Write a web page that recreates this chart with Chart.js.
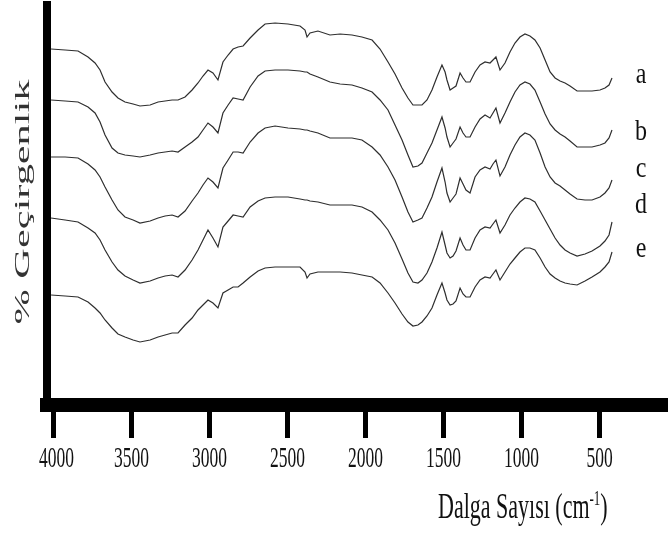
<!DOCTYPE html>
<html>
<head>
<meta charset="utf-8">
<script src="https://cdn.jsdelivr.net/npm/chart.js@4.4.0/dist/chart.umd.min.js"></script>
<style>
  html, body { margin: 0; padding: 0; background: #fff; }
  #wrap { width: 668px; height: 533px; }
</style>
</head>
<body>
<div id="wrap"><canvas id="chart_canvas" width="668" height="533"></canvas></div>
<script>
// Wavenumbers (cm-1) where the spectra were read
const waveNumbers = [
  4016, 3926, 3843, 3779, 3734, 3702, 3670, 3625, 3587, 3542,
  3490, 3446, 3381, 3330, 3285, 3240, 3202, 3157, 3112, 3074,
  3042, 3010, 2978, 2946, 2914, 2881, 2849, 2817, 2785, 2740,
  2689, 2644, 2580, 2497, 2420, 2388, 2375, 2356, 2305, 2228,
  2163, 2087, 2023, 1958, 1907, 1856, 1811, 1766, 1728, 1696,
  1664, 1638, 1606, 1574, 1542, 1510, 1490, 1478, 1458, 1439,
  1420, 1394, 1375, 1356, 1330, 1298, 1266, 1234, 1202, 1183,
  1164, 1138, 1106, 1074, 1042, 1010, 978, 946, 914, 881,
  849, 817, 785, 753, 721, 689, 644, 593, 548, 497,
  465, 439, 420
]

// % transmittance (offset, arbitrary units) for each sample
const specA = [
  356, 355, 354, 348, 342, 335, 323, 313, 307, 303,
  301, 299, 300, 303, 304, 305, 305, 308, 315, 322,
  329, 335, 332, 325, 343, 350, 356, 358, 359, 367,
  375, 381, 382, 381, 379, 375, 368, 372, 374, 370,
  371, 370, 368, 365, 356, 343, 331, 317, 307, 300,
  300, 300, 305, 315, 328, 340, 333, 325, 315, 317,
  319, 332, 327, 323, 323, 333, 340, 343, 342, 345,
  348, 335, 342, 353, 362, 368, 371, 369, 365, 357,
  345, 333, 327, 324, 322, 319, 314, 314, 314, 315,
  317, 320, 327
]
const specB = [
  305, 304, 303, 298, 292, 283, 270, 257, 252, 250,
  249, 248, 250, 252, 253, 254, 253, 258, 263, 268,
  275, 282, 278, 272, 292, 300, 307, 306, 305, 318,
  329, 334, 335, 335, 334, 333, 333, 331, 328, 323,
  321, 320, 317, 313, 305, 295, 280, 265, 250, 238,
  239, 242, 252, 262, 275, 288, 277, 268, 258, 262,
  266, 278, 272, 268, 268, 278, 286, 290, 287, 292,
  297, 282, 292, 303, 313, 320, 323, 321, 315, 303,
  291, 281, 275, 271, 268, 264, 258, 258, 258, 260,
  262, 267, 275
]
const specC = [
  248, 248, 247, 241, 235, 228, 218, 205, 195, 188,
  185, 182, 184, 187, 189, 190, 188, 194, 204, 212,
  220, 227, 223, 217, 237, 245, 253, 253, 252, 263,
  272, 277, 279, 277, 276, 275, 275, 274, 272, 267,
  267, 267, 265, 258, 250, 238, 225, 208, 193, 183,
  185, 187, 197, 208, 223, 237, 223, 212, 203, 207,
  211, 227, 221, 215, 212, 228, 235, 238, 236, 241,
  245, 229, 238, 250, 260, 268, 272, 270, 265, 252,
  238, 228, 222, 219, 215, 211, 206, 205, 205, 208,
  212, 217, 225
]
const specD = [
  187, 185, 183, 177, 172, 165, 155, 143, 135, 129,
  125, 122, 124, 127, 129, 130, 128, 135, 145, 155,
  165, 175, 167, 158, 178, 184, 190, 189, 188, 198,
  204, 207, 208, 208, 206, 205, 205, 204, 203, 200,
  200, 200, 198, 193, 185, 175, 162, 146, 132, 123,
  122, 125, 132, 143, 157, 173, 160, 152, 147, 149,
  154, 167, 160, 155, 155, 167, 175, 178, 177, 181,
  185, 172, 180, 190, 197, 203, 207, 206, 203, 194,
  185, 176, 167, 160, 155, 152, 149, 151, 154, 159,
  164, 170, 183
]
const specE = [
  110, 109, 108, 103, 97, 92, 85, 77, 71, 68,
  65, 63, 65, 68, 70, 72, 72, 80, 87, 95,
  100, 105, 102, 97, 112, 115, 118, 118, 122, 128,
  134, 137, 138, 138, 138, 133, 127, 131, 133, 133,
  133, 132, 130, 128, 122, 112, 102, 91, 83, 79,
  80, 83, 89, 97, 110, 122, 112, 105, 100, 101,
  104, 117, 111, 108, 108, 118, 125, 128, 127, 131,
  135, 125, 133, 141, 147, 153, 157, 157, 155, 147,
  138, 131, 127, 124, 122, 121, 120, 124, 128, 133,
  138, 143, 153
]

const sampleNames = ['a', 'b', 'c', 'd', 'e']
const sampleLabelY = [322, 265, 228, 192, 148]   // baseline of the letters, in y units
const sampleLabelX = 234                         // in cm-1
const xTicks = [4000, 3500, 3000, 2500, 2000, 1500, 1000, 500]

const series = [specA, specB, specC, specD, specE]

function toPoints(ys) {
  return ys.map((y, i) => ({ x: waveNumbers[i], y: y }))
}

// texte étiré verticalement comme dans la figure d'origine
function stretchedText(ctx, text, x, y, sx, sy, align) {
  ctx.save()
  ctx.translate(x, y)
  ctx.scale(sx, sy)
  ctx.textAlign = align
  ctx.textBaseline = 'alphabetic'
  ctx.fillText(text, 0, 0)
  ctx.restore()
}

const textPlugin = {
  id: 'ftirText',
  afterDraw(chart) {
    const ctx = chart.ctx
    const xs = chart.scales.x
    const ys = chart.scales.y

    // tick labels
    ctx.fillStyle = '#111'
    ctx.font = '17.5px "Liberation Serif", "Times New Roman", serif'
    xTicks.forEach(v => {
      const px = xs.getPixelForValue(v)
      stretchedText(ctx, String(v), v === 4000 ? px + 3 : px, 467, 1, 1.7, 'center')
    })

    // x axis title with superscript
    const tx = 438, ty = 518
    ctx.font = '22px "Liberation Serif", "Times New Roman", serif'
    const main = 'Dalga Sayısı (cm'
    stretchedText(ctx, main, tx, ty, 1, 1.6, 'left')
    let w = ctx.measureText(main).width
    ctx.font = '13px "Liberation Serif", "Times New Roman", serif'
    stretchedText(ctx, '-1', tx + w, ty - 13, 1, 1.6, 'left')
    const w2 = ctx.measureText('-1').width
    ctx.font = '22px "Liberation Serif", "Times New Roman", serif'
    stretchedText(ctx, ')', tx + w + w2, ty, 1, 1.6, 'left')

    // y axis title, rotated and stretched along its length
    ctx.save()
    ctx.fillStyle = '#333'
    ctx.font = '20px "Liberation Serif", "Times New Roman", serif'
    const yTitle = '% Geçirgenlik'
    const yw = ctx.measureText(yTitle).width
    ctx.translate(29, 202)
    ctx.rotate(-Math.PI / 2)
    ctx.scale(245 / yw, 1)
    ctx.textAlign = 'center'
    ctx.textBaseline = 'alphabetic'
    ctx.fillText(yTitle, 0, 0)
    ctx.restore()

    // sample letters
    ctx.fillStyle = '#111'
    ctx.font = '24px "Liberation Serif", "Times New Roman", serif'
    sampleNames.forEach((n, i) => {
      stretchedText(ctx, n, xs.getPixelForValue(sampleLabelX), ys.getPixelForValue(sampleLabelY[i]), 1, 1.25, 'center')
    })
  }
}

const data = {
  datasets: series.map((s, i) => ({
    label: sampleNames[i],
    data: toPoints(s),
    borderColor: '#2e2e2e',
    borderWidth: 1.2,
    pointRadius: 0,
    tension: 0,
    fill: false
  }))
}

const config = {
  type: 'line',
  data,
  options: {
    responsive: false,
    animation: false,
    layout: { padding: { top: 5, right: 0, left: 0, bottom: 0 } },
    scales: {
      x: {
        type: 'linear',
        reverse: true,
        min: 61,
        max: 4042,
        afterBuildTicks: (scale) => {
          scale.ticks = xTicks.map(v => ({ value: v }))
        },
        afterFit: (scale) => { scale.height = 128 },
        ticks: { color: 'rgba(0,0,0,0)', font: { size: 12 } },
        grid: {
          drawOnChartArea: false,
          tickLength: 33,
          tickWidth: 5,
          tickColor: '#000'
        },
        border: { width: 14, color: '#000' }
      },
      y: {
        min: 0,
        max: 400,
        afterFit: (scale) => { scale.width = 47 },
        ticks: { display: false },
        grid: { display: false },
        border: { width: 8, color: '#000' }
      }
    },
    plugins: {
      legend: { display: false },
      tooltip: { enabled: false }
    }
  },
  plugins: [textPlugin]
}

var myChart = new Chart(document.getElementById('chart_canvas').getContext('2d'), config)
</script>
</body>
</html>
